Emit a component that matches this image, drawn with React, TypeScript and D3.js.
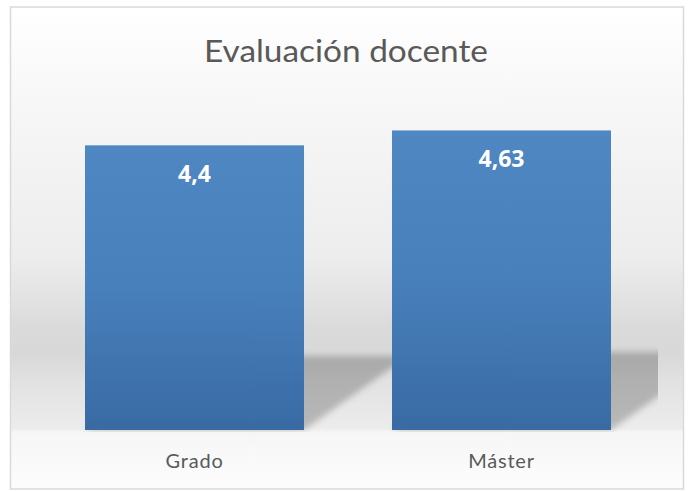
import React from "react";
import * as d3 from "d3";

const categories = ["Grado", "Máster"];
const values = [4.4, 4.63];
const valueLabels = ["4,4", "4,63"];
const title = "Evaluación docente";

const W = 691;
const H = 491;

export default function App() {
  const x = d3
    .scaleBand<string>()
    .domain(categories)
    .range([41, 655])
    .paddingInner(0.2866)
    .paddingOuter(0.1433);
  const y = d3.scaleLinear().domain([0, 5]).range([430, 106.5]);
  const base = y(0);

  const shadowPath = (c: string, v: number) => {
    const x0 = x(c)!;
    const x1 = x0 + x.bandwidth();
    const h = (base - y(v)) * 0.26;
    const dx = h * 1.41;
    const p = d3.path();
    p.moveTo(x0, base);
    p.lineTo(x1, base);
    p.lineTo(x1 + dx, base - h);
    p.lineTo(x0 + dx, base - h);
    p.closePath();
    return p.toString();
  };

  return (
    <svg
      width={W}
      height={H}
      style={{ position: "absolute", left: 0, top: 0, display: "block" }}
    >
      <defs>
        <linearGradient id="bgv" x1="0" y1="7" x2="0" y2="489" gradientUnits="userSpaceOnUse">
          <stop offset="0" stopColor="#ffffff" />
          <stop offset="0.23" stopColor="#f6f6f6" />
          <stop offset="0.52" stopColor="#ededed" />
          <stop offset="0.67" stopColor="#dadada" />
          <stop offset="0.72" stopColor="#d8d8d8" />
          <stop offset="0.78" stopColor="#e2e2e2" />
          <stop offset="0.874" stopColor="#ececec" />
          <stop offset="0.882" stopColor="#f6f6f6" />
          <stop offset="1" stopColor="#fdfdfd" />
        </linearGradient>
        <linearGradient id="bar" x1="0" y1="0" x2="0" y2="1">
          <stop offset="0" stopColor="#4f87c3" />
          <stop offset="0.5" stopColor="#4880bb" />
          <stop offset="1" stopColor="#396aa4" />
        </linearGradient>
        <filter id="blur" x="-20%" y="-50%" width="140%" height="200%">
          <feGaussianBlur stdDeviation="3" />
        </filter>
        <clipPath id="plotclip">
          <rect x={41} y={100} width={617} height={base - 100 + 2} />
        </clipPath>
      </defs>

      <rect x={10.5} y={7} width={673} height={482} fill="url(#bgv)" stroke="#d9d9d9" strokeWidth={1.5} />

      <text
        x={W / 2 + 0.5}
        y={62}
        textAnchor="middle"
        fontFamily="Lato, 'Open Sans', sans-serif"
        fontSize={30.5}
        fill="#595959"
        textLength={284}
        lengthAdjust="spacingAndGlyphs"
      >
        {title}
      </text>

      <g clipPath="url(#plotclip)">
        {categories.map((c, i) => (
          <path key={"s" + c} d={shadowPath(c, values[i])} fill="#000" fillOpacity={0.22} filter="url(#blur)" />
        ))}
      </g>

      {categories.map((c, i) => (
        <rect
          key={c}
          x={x(c)}
          y={y(values[i])}
          width={x.bandwidth()}
          height={base - y(values[i])}
          fill="url(#bar)"
        />
      ))}

      {categories.map((c, i) => (
        <text
          key={"v" + c}
          x={x(c)! + x.bandwidth() / 2}
          y={y(values[i]) + 37}
          textAnchor="middle"
          fontFamily="'Open Sans', Lato, sans-serif"
          fontWeight="bold"
          fontSize={23}
          fill="#ffffff"
        >
          {valueLabels[i]}
        </text>
      ))}

      {categories.map((c) => (
        <text
          key={"c" + c}
          x={x(c)! + x.bandwidth() / 2}
          y={468}
          textAnchor="middle"
          fontFamily="Lato, 'Open Sans', sans-serif"
          fontSize={20}
          letterSpacing={0.8}
          fill="#595959"
        >
          {c}
        </text>
      ))}
    </svg>
  );
}
